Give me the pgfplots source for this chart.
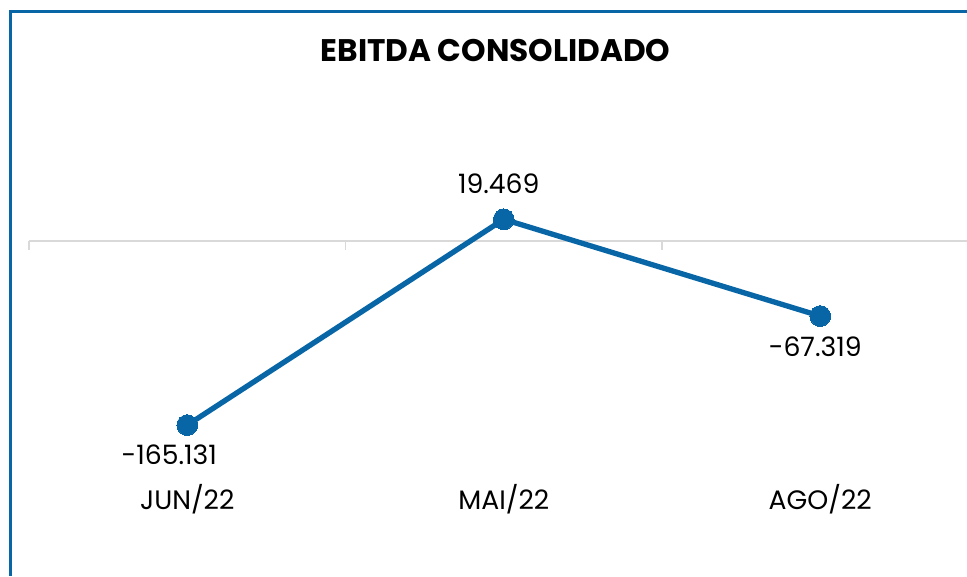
\documentclass[border=0pt]{standalone}
\usepackage{fontspec}
\setmainfont{Poppins}
\usepackage{pgfplots}
\usepackage{pgfplotstable}
\pgfplotsset{compat=1.18}
\definecolor{lineblue}{HTML}{0866A6}
\definecolor{axgray}{HTML}{D9D9D9}
\pgfplotstableread{
x y label dx dy
0 -165.131 -165.131 -13.5 -22.5
1 19.469 19.469 -3.75 27
2 -67.319 -67.319 -3.75 -23.25
}\ebitda
\begin{document}
\begin{tikzpicture}
\useasboundingbox (0,0) rectangle (725.25pt,-432pt);
\draw[lineblue, line width=2.4pt] (8pt,-432pt) -- (8pt,-8.5pt) -- (725.25pt,-8.5pt);
\node[font=\fontsize{23.4}{28}\selectfont\bfseries] at (371.6pt,-37.5pt) {EBITDA CONSOLIDADO};
\begin{axis}[
  at={(21.75pt,-381.75pt)}, anchor=south west,
  scale only axis, width=703.5pt, height=306.75pt,
  xmin=-0.5, xmax=2.4637, ymin=-240.36, ymax=126.46,
  xtick={0,1,2}, xticklabels={JUN/22,MAI/22,AGO/22},
  ytick=\empty,
  axis line style={draw=none},
  major tick length=0pt, tick style={draw=none},
  xticklabel style={anchor=base, font=\fontsize{20}{24}\selectfont},
  clip=false,
]
\draw[axgray, line width=1.1pt] (axis cs:-0.5,0) -- (axis cs:2.4637,0);
\draw[axgray, line width=1.1pt] (axis cs:-0.5,0) -- ++(0pt,-6.75pt);
\draw[axgray, line width=1.1pt] (axis cs:0.5,0) -- ++(0pt,-6.75pt);
\draw[axgray, line width=1.1pt] (axis cs:1.5,0) -- ++(0pt,-6.75pt);
\addplot[lineblue, line width=4pt, mark=*, mark size=7.8pt,
  mark options={fill=lineblue, draw=lineblue, line width=0pt},
  nodes near coords, point meta=explicit symbolic,
  visualization depends on={\thisrow{dx} \as \dx},
  visualization depends on={\thisrow{dy} \as \dy},
  every node near coord/.append style={anchor=center, text=black,
    font=\fontsize{20}{24}\selectfont, xshift=\dx pt, yshift=\dy pt},
] table[x=x, y=y, meta=label] {\ebitda};
\end{axis}
\end{tikzpicture}
\end{document}
